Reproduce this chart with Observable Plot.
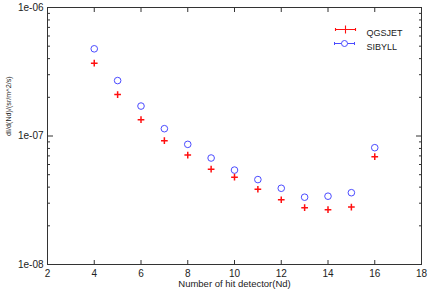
<!DOCTYPE html>
<html>
<head>
<meta charset="utf-8">
<script src="https://cdn.jsdelivr.net/npm/d3@7"></script>
<script src="https://cdn.jsdelivr.net/npm/@observablehq/plot@0.6"></script>
<style>
  html, body { margin: 0; padding: 0; background: #fff; }
</style>
</head>
<body>
<div id="chart"></div>
<script>
// Data
const nd = [4, 5, 6, 7, 8, 9, 10, 11, 12, 13, 14, 15, 16];
const qgsjet = [3.69e-7, 2.10e-7, 1.34e-7, 9.2e-8, 7.11e-8, 5.52e-8, 4.78e-8, 3.85e-8, 3.19e-8, 2.77e-8, 2.67e-8, 2.80e-8, 6.90e-8];
const sibyll = [4.77e-7, 2.70e-7, 1.71e-7, 1.14e-7, 8.61e-8, 6.74e-8, 5.43e-8, 4.58e-8, 3.92e-8, 3.34e-8, 3.40e-8, 3.62e-8, 8.11e-8];
const xTicks = [2, 4, 6, 8, 10, 12, 14, 16, 18];
const yMajor = [1e-8, 1e-7, 1e-6];
const yMajorLabels = ["1e-08", "1e-07", "1e-06"];
const yMinor = [1e-8, 1e-7].flatMap(d => [2, 3, 4, 5, 6, 7, 8, 9].map(m => m * d));
const seriesNames = ["QGSJET", "SIBYLL"];
const xLabel = "Number of hit detector(Nd)";
const yLabel = "dI/d(Nd)/(sr/m^2/s)";

const red = "#ff1010";
const blue = "#4b4bff";

const qRows = nd.map((x, i) => ({x, y: qgsjet[i]}));
const sRows = nd.map((x, i) => ({x, y: sibyll[i]}));

// legend symbols (with horizontal error-bar look)
const legendPlus = {
  draw(ctx) {
    ctx.moveTo(-10, 0); ctx.lineTo(10, 0);
    ctx.moveTo(-10, -1.5); ctx.lineTo(-10, 1.5);
    ctx.moveTo(10, -1.5); ctx.lineTo(10, 1.5);
    ctx.moveTo(0, -4); ctx.lineTo(0, 4);
  }
};
const legendCircle = {
  draw(ctx) {
    ctx.moveTo(3, 0); ctx.arc(0, 0, 3, 0, 2 * Math.PI);
    ctx.moveTo(-10, 0); ctx.lineTo(-3, 0);
    ctx.moveTo(3, 0); ctx.lineTo(10, 0);
    ctx.moveTo(-10, -1.5); ctx.lineTo(-10, 1.5);
    ctx.moveTo(10, -1.5); ctx.lineTo(10, 1.5);
  }
};

const font = "'Liberation Sans', Arial, Helvetica, sans-serif";
const blank = () => "";

const chart = Plot.plot({
  width: 429,
  height: 294,
  marginLeft: 47,
  marginRight: 8,
  marginTop: 7,
  marginBottom: 30,
  style: {fontFamily: font, background: "#fff", color: "#222"},
  x: {domain: [2, 18]},
  y: {type: "log", domain: [1e-8, 1e-6]},
  marks: [
    // inward ticks, bottom & top
    Plot.axisX({anchor: "bottom", ticks: xTicks, tickSize: -4, tickFormat: blank, label: null, stroke: "#333"}),
    Plot.axisX({anchor: "top", ticks: xTicks, tickSize: -4, tickFormat: blank, label: null, stroke: "#333"}),
    Plot.axisX({anchor: "bottom", ticks: xTicks, tickSize: 0, tickPadding: 5, fontSize: 10, label: null, fill: "#222"}),
    // y ticks left & right
    Plot.axisY({anchor: "left", ticks: yMajor, tickSize: -6, tickFormat: blank, label: null, stroke: "#333"}),
    Plot.axisY({anchor: "right", ticks: yMajor, tickSize: -6, tickFormat: blank, label: null, stroke: "#333"}),
    Plot.axisY({anchor: "left", ticks: yMinor, tickSize: -3, tickFormat: blank, label: null, stroke: "#333"}),
    Plot.axisY({anchor: "right", ticks: yMinor, tickSize: -3, tickFormat: blank, label: null, stroke: "#333"}),
    Plot.axisY({anchor: "left", ticks: yMajor, tickSize: 0, tickPadding: 4, fontSize: 10, fill: "#222",
      tickFormat: d => yMajorLabels[yMajor.findIndex(v => Math.abs(v - d) / v < 1e-6)], label: null}),
    Plot.frame({stroke: "#333", strokeWidth: 1}),
    // axis titles
    Plot.text([xLabel], {frameAnchor: "bottom", dy: 22, fontSize: 9.5, fill: "#222"}),
    Plot.text([yLabel], {frameAnchor: "left", dx: -39, rotate: -90, fontSize: 7.2, fill: "#222"}),
    // data
    Plot.dot(sRows, {x: "x", y: "y", r: 3.3, stroke: blue, strokeWidth: 1, fill: "none"}),
    Plot.dot(qRows, {x: "x", y: "y", symbol: "plus", r: 2.3, stroke: red, strokeWidth: 1.5}),
    // legend
    Plot.dot([seriesNames[0]], {frameAnchor: "top-right", dx: -76, dy: 22, symbol: legendPlus, stroke: red, fill: "none", strokeWidth: 1.1, r: 4}),
    Plot.dot([seriesNames[1]], {frameAnchor: "top-right", dx: -77, dy: 36, symbol: legendCircle, stroke: blue, strokeWidth: 1, fill: "none", r: 4}),
    Plot.text([seriesNames[0]], {frameAnchor: "top-right", dx: -55, dy: 22, textAnchor: "start", fontSize: 9, fill: "#222"}),
    Plot.text([seriesNames[1]], {frameAnchor: "top-right", dx: -55, dy: 36, textAnchor: "start", fontSize: 9, fill: "#222"})
  ]
});
document.getElementById("chart").appendChild(chart);
</script>
</body>
</html>
